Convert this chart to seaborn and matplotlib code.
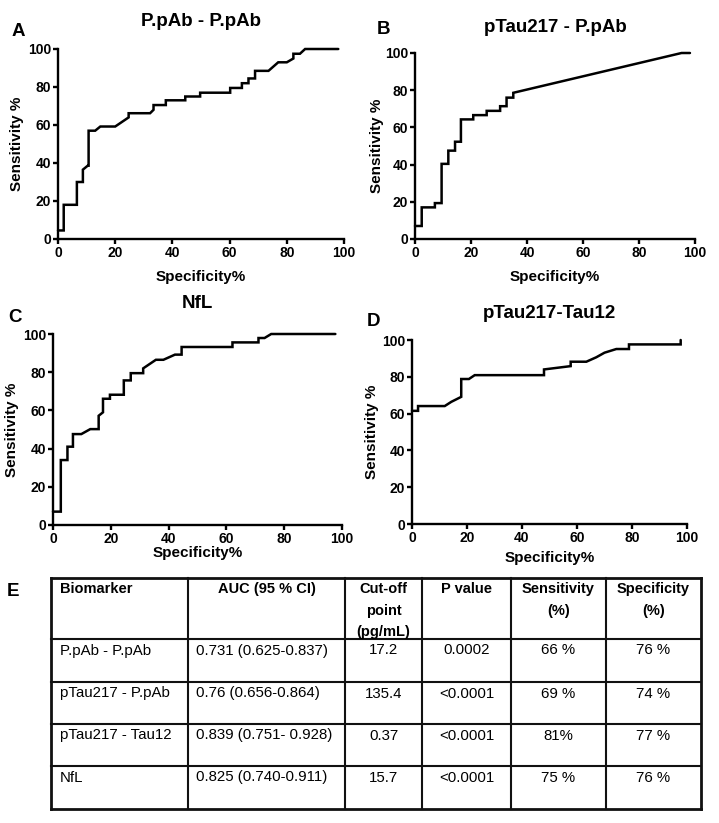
import numpy as np
import pandas as pd
import matplotlib
matplotlib.use("Agg")
import matplotlib.pyplot as plt
import seaborn as sns

# ---------------- data ----------------
titles = ["P.pAb - P.pAb", "pTau217 - P.pAb", "NfL", "pTau217-Tau12"]
letters = ["A", "B", "C", "D"]

A_x = [0, 2.0, 2.0, 6.6, 6.6, 8.7, 8.7, 10.4, 10.7, 10.7, 13.0, 14.8, 20.0, 24.7, 24.7,
       32.2, 33.4, 33.4, 37.7, 37.7, 44.5, 44.5, 49.7, 49.7, 60.2, 60.2, 64.3, 64.3,
       66.6, 66.6, 68.9, 68.9, 73.6, 77.0, 80.0, 82.3, 82.3, 84.6, 86.4, 98.0]
A_y = [4.5, 4.5, 18, 18, 30, 30, 36.5, 38.6, 38.6, 57, 57, 59.2, 59.2, 64, 66.2,
       66.2, 68, 70.5, 70.5, 73, 73, 75, 75, 77, 77, 79.5, 79.5, 82,
       82, 84.5, 84.5, 88.5, 88.5, 93, 93, 95, 97.5, 97.5, 100, 100]

B_x = [0, 2.4, 2.4, 7.1, 7.1, 9.5, 9.5, 11.9, 11.9, 14.3, 14.3, 16.4, 16.4, 20.8, 20.8,
       25.6, 25.6, 30.4, 30.4, 32.7, 32.7, 35.1, 35.1, 95.2, 98.2]
B_y = [7, 7, 17, 17, 19.3, 19.3, 40.4, 40.4, 47.5, 47.5, 52.3, 52.3, 64.3, 64.3, 66.6,
       66.6, 68.9, 68.9, 71.4, 71.4, 76, 76, 78.6, 100, 100]

C_x = [0, 2.7, 2.7, 5.0, 5.0, 6.9, 6.9, 9.8, 12.9, 15.8, 15.8, 17.3, 17.3, 19.7, 19.7,
       24.5, 24.5, 26.9, 26.9, 31.2, 31.2, 35.6, 38.2, 42.2, 44.5, 44.5, 62.1, 62.1,
       71.1, 71.1, 73.2, 75.5, 97.7]
C_y = [7, 7, 34, 34, 41, 41, 47.6, 47.6, 50.2, 50.2, 57.2, 59, 66.1, 66.1, 68.2,
       68.2, 75.7, 75.7, 79.5, 79.5, 82, 86.5, 86.5, 89.2, 89.2, 93.2, 93.2, 95.6,
       95.6, 97.9, 97.9, 100, 100]

D_x = [0, 2.2, 2.2, 11.9, 14.3, 17.9, 17.9, 20.7, 22.8, 48.0, 48.0, 57.7, 57.7, 63.4,
       67.0, 70.0, 74.3, 78.9, 78.9, 97.7, 97.7]
D_y = [61.5, 61.5, 64.1, 64.1, 66.4, 69.1, 78.8, 78.8, 80.9, 80.9, 84.0, 85.8, 88.2, 88.2,
       90.6, 93.1, 95.1, 95.1, 97.6, 97.6, 100]

tick_values = [0, 20, 40, 60, 80, 100]
x_label = "Specificity%"
y_label = "Sensitivity %"

# table
header = ["Biomarker", "AUC (95 % CI)", "Cut-off\npoint\n(pg/mL)", "P value",
          "Sensitivity\n(%)", "Specificity\n(%)"]
biomarkers = ["P.pAb - P.pAb", "pTau217 - P.pAb", "pTau217 - Tau12", "NfL"]
auc_ci = ["0.731 (0.625-0.837)", "0.76 (0.656-0.864)", "0.839 (0.751- 0.928)",
          "0.825 (0.740-0.911)"]
cutoff = ["17.2", "135.4", "0.37", "15.7"]
pvalue = ["0.0002", "<0.0001", "<0.0001", "<0.0001"]
sens = ["66 %", "69 %", "81%", "75 %"]
spec = ["76 %", "74 %", "77 %", "76 %"]

# ---------------- style ----------------
sns.set_style("ticks")
plt.rcParams['font.family'] = ['Liberation Sans', 'DejaVu Sans']
plt.rcParams['font.weight'] = 'bold'
plt.rcParams['axes.labelweight'] = 'bold'
plt.rcParams['text.color'] = 'black'
plt.rcParams['axes.labelcolor'] = 'black'
plt.rcParams['xtick.color'] = 'black'
plt.rcParams['ytick.color'] = 'black'
plt.rcParams['axes.edgecolor'] = 'black'

W, H = 719, 823
fig = plt.figure(figsize=(W / 100, H / 100), dpi=100)
fig.patch.set_facecolor('white')

# layout in pixels: (left, top, right, bottom)
boxes = [(58, 49, 344, 239), (415, 53, 695, 239), (53, 334, 342, 525), (412, 340, 687, 524)]
title_y = [21, 27, 304, 313]
letter_xy = [(18, 31), (383, 29), (15, 317), (374, 321)]
xlab_off = [38, 38, 28, 34]
ylab_off = [41, 38, 41, 40]

series = [(A_x, A_y), (B_x, B_y), (C_x, C_y), (D_x, D_y)]

for i, (xs, ys) in enumerate(series):
    l, t, r, b = boxes[i]
    wpx, hpx = r - l, b - t
    ax = fig.add_axes([l / W, 1 - b / H, wpx / W, hpx / H])
    df = pd.DataFrame({"spec": xs, "sens": ys})
    sns.lineplot(data=df, x="spec", y="sens", sort=False, estimator=None,
                 color="black", linewidth=1.8, ax=ax)
    for ln in ax.lines:
        ln.set_clip_on(False)
        ln.set_solid_joinstyle('miter')
    ax.set_xlim(0, 100)
    ax.set_ylim(0, 100)
    ax.set_xticks(tick_values)
    ax.set_yticks(tick_values)
    sns.despine(ax=ax)
    for s in ["left", "bottom"]:
        ax.spines[s].set_linewidth(1.7)
        ax.spines[s].set_color("black")
    ax.tick_params(width=1.7, length=3.5, pad=1.5, labelsize=10, colors="black")
    for lab in ax.get_xticklabels() + ax.get_yticklabels():
        lab.set_fontweight('bold')
    ax.set_xlabel(x_label, fontsize=11, fontweight='bold')
    ax.set_ylabel(y_label, fontsize=11, fontweight='bold')
    ax.xaxis.label.set_va('center')
    ax.yaxis.label.set_va('center')
    ax.xaxis.set_label_coords(0.5, -xlab_off[i] / hpx)
    ax.yaxis.set_label_coords(-ylab_off[i] / wpx, 0.5)
    ax.set_facecolor('white')
    cx = (l + r) / 2
    fig.text(cx / W, 1 - title_y[i] / H, titles[i], ha='center', va='center',
             fontsize=13.5, fontweight='bold')
    lx, ly = letter_xy[i]
    fig.text(lx / W, 1 - ly / H, letters[i], ha='center', va='center',
             fontsize=13.5, fontweight='bold')

# ---------------- table ----------------
tax = fig.add_axes([0, 0, 1, 1])
tax.set_xlim(0, W)
tax.set_ylim(H, 0)
tax.axis('off')

col_edges = [51, 188, 345, 422, 511, 606, 701]
row_edges = [578, 639, 682, 724, 766, 809]
for yy in row_edges:
    lw = 2.0 if yy in (row_edges[0], row_edges[-1]) else 1.5
    tax.plot([col_edges[0], col_edges[-1]], [yy, yy], color="#111111", lw=lw,
             solid_capstyle='projecting')
for xx in col_edges:
    lw = 2.0 if xx in (col_edges[0], col_edges[-1]) else 1.5
    tax.plot([xx, xx], [row_edges[0], row_edges[-1]], color="#111111", lw=lw,
             solid_capstyle='projecting')

fig.text(13 / W, 1 - 591 / H, "E", ha='center', va='center', fontsize=13.5, fontweight='bold')

line_step = 21.5
for j, txt in enumerate(header):
    for k, part in enumerate(txt.split("\n")):
        yy = row_edges[0] + 11 + k * line_step
        if j == 0:
            tax.text(col_edges[0] + 9, yy, part, ha='left', va='center',
                     fontsize=10.5, fontweight='bold')
        else:
            tax.text((col_edges[j] + col_edges[j + 1]) / 2, yy, part, ha='center',
                     va='center', fontsize=10.5, fontweight='bold')

rows = list(zip(biomarkers, auc_ci, cutoff, pvalue, sens, spec))
for r_i, row in enumerate(rows):
    yy = row_edges[r_i + 1] + 11.5
    for j, val in enumerate(row):
        if j == 0:
            tax.text(col_edges[0] + 9, yy, val, ha='left', va='center',
                     fontsize=10.8, fontweight='normal')
        elif j == 1:
            tax.text(col_edges[1] + 8, yy, val, ha='left', va='center',
                     fontsize=10.8, fontweight='normal')
        else:
            tax.text((col_edges[j] + col_edges[j + 1]) / 2, yy, val, ha='center',
                     va='center', fontsize=10.8, fontweight='normal')

fig.savefig("out.png", dpi=100, facecolor='white')
